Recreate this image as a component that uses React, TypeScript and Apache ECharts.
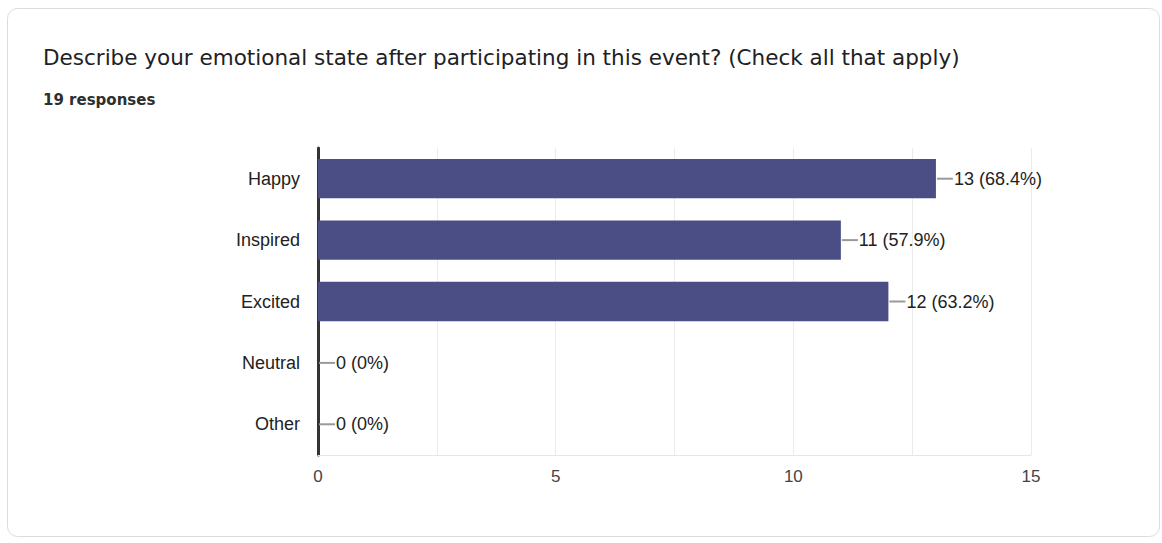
import React, { useEffect, useRef } from "react";
import * as echarts from "echarts";

const titleText = "Describe your emotional state after participating in this event? (Check all that apply)";
const subtitleText = "19 responses";
const categories = ["Happy", "Inspired", "Excited", "Neutral", "Other"];
const counts = [13, 11, 12, 0, 0];
const percents = ["68.4%", "57.9%", "63.2%", "0%", "0%"];
const xMin = 0;
const xMax = 15;
const xStep = 2.5;

const SANS = "'Liberation Sans', Arial, sans-serif";

export default function App() {
  const ref = useRef<HTMLDivElement>(null);
  useEffect(() => {
    if (!ref.current) return;
    const chart = echarts.init(ref.current, null, { renderer: "svg" });
    chart.setOption({
      animation: false,
      backgroundColor: "#ffffff",
      graphic: [
        {
          type: "rect",
          shape: { x: 7.5, y: 8.5, width: 1152, height: 528, r: 10 },
          style: { fill: "#ffffff", stroke: "#dadce0", lineWidth: 1 },
          z: -10,
        },
        {
          type: "text",
          left: 43,
          top: 46,
          style: {
            text: titleText,
            font: "400 21.5px 'DejaVu Sans', sans-serif",
            fill: "#202124",
          },
        },
        {
          type: "text",
          left: 43,
          top: 92,
          style: {
            text: subtitleText,
            font: "bold 15px 'DejaVu Sans', sans-serif",
            fill: "#2d2f31",
          },
        },
      ],
      grid: { left: 318, right: 131, top: 148, bottom: 88, containLabel: false },
      xAxis: {
        type: "value",
        min: xMin,
        max: xMax,
        interval: xStep,
        axisLine: { show: true, lineStyle: { color: "#e6e6e6", width: 1 } },
        axisTick: { show: false },
        splitLine: { show: true, lineStyle: { color: "#ebebeb", width: 1 } },
        axisLabel: {
          margin: 13,
          fontFamily: SANS,
          fontSize: 17,
          color: "#444444",
          formatter: (v: number) => (v % 5 === 0 ? String(v) : ""),
        },
      },
      yAxis: {
        type: "category",
        data: categories,
        inverse: true,
        axisLine: { show: true, lineStyle: { color: "#333333", width: 3 } },
        axisTick: { show: false },
        splitLine: { show: false },
        axisLabel: {
          margin: 18,
          fontFamily: SANS,
          fontSize: 18,
          color: "#222222",
        },
      },
      series: [
        {
          type: "bar",
          data: counts,
          barWidth: "64%",
          itemStyle: { color: "#4a4e85" },
          label: {
            show: true,
            position: "right",
            distance: 1,
            formatter: (p: any) => `{l| }{t|${counts[p.dataIndex]} (${percents[p.dataIndex]})}`,
            rich: {
              l: { width: 16, height: 2, backgroundColor: "#999999", lineHeight: 2 },
              t: {
                fontFamily: SANS,
                fontSize: 18,
                color: "#222222",
                padding: [0, 0, 0, 1],
              },
            },
          },
        },
      ],
    });
    return () => chart.dispose();
  }, []);
  return (
    <div style={{ position: "fixed", left: 0, top: 0, width: 1162, height: 543 }}>
      <div ref={ref} style={{ width: 1162, height: 543 }} />
    </div>
  );
}
